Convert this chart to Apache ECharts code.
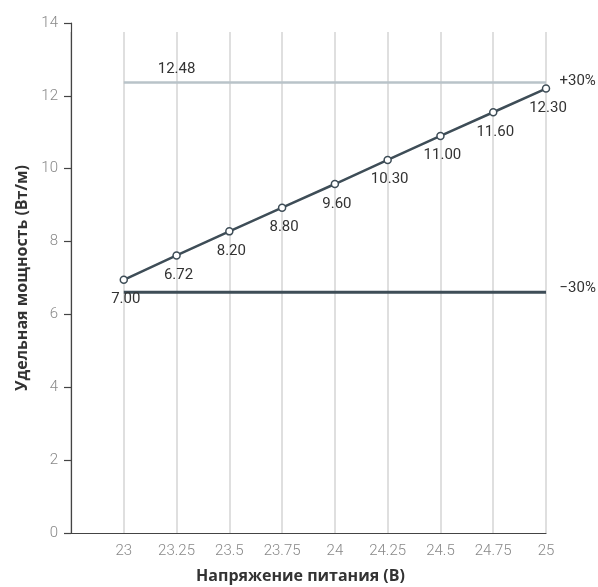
<!DOCTYPE html>
<html>
<head>
<meta charset="utf-8">
<script src="https://cdn.jsdelivr.net/npm/echarts@6/dist/echarts.min.js"></script>
<style>html,body{margin:0;padding:0;background:#fff}#c{width:598px;height:587px}</style>
</head>
<body>
<div id="c"></div>
<script>
const xValues = [23, 23.25, 23.5, 23.75, 24, 24.25, 24.5, 24.75, 25];
const powerValues = [6.95, 7.62, 8.28, 8.93, 9.58, 10.24, 10.9, 11.55, 12.2];
const pointLabels = ['7.00', '6.72', '8.20', '8.80', '9.60', '10.30', '11.00', '11.60', '12.30'];
const upperLimit = 12.37;
const upperLabel = '12.48';
const upperTag = '+30%';
const lowerLimit = 6.61;
const lowerTag = '\u221230%';
const yMin = 0, yMax = 14, yStep = 2;
const xMin = 22.75, xStep = 0.25;
const xName = 'Напряжение питания (В)';
const yName = 'Удельная мощность (Вт/м)';

const FONT = 'Roboto';
const NAME_FONT = 'Open Sans';
const chart = echarts.init(document.getElementById('c'), null, {renderer: 'canvas'});

const mainData = xValues.map((x, i) => ({
  value: [x, powerValues[i]],
  label: {formatter: pointLabels[i]}
}));
const upperData = xValues.map((x, i) => {
  const d = {value: [x, upperLimit]};
  if (i === 1) d.label = {show: true, position: 'top', distance: 5, formatter: upperLabel};
  if (i === xValues.length - 1) d.label = {show: true, position: 'right', distance: 13, offset: [0, -1], formatter: upperTag};
  return d;
});
const lowerData = xValues.map((x, i) => {
  const d = {value: [x, lowerLimit]};
  if (i === xValues.length - 1) d.label = {show: true, position: 'right', distance: 13, offset: [0, -4], formatter: lowerTag};
  return d;
});

const xMax = xValues[xValues.length - 1];
const hiddenItem = {color: 'rgba(0,0,0,0)', borderWidth: 0};

chart.setOption({
  animation: false,
  backgroundColor: '#fff',
  grid: [
    {left: 71, right: 52, top: 23, bottom: 54, containLabel: false, outerBoundsMode: 'none'},
    {left: 71, right: 52, top: 32, bottom: 54, containLabel: false, outerBoundsMode: 'none'}
  ],
  xAxis: [
    {
      type: 'value', gridIndex: 0, min: xMin, max: xMax, interval: xStep,
      name: xName, nameLocation: 'middle', nameGap: 35,
      nameTextStyle: {fontFamily: NAME_FONT, fontSize: 16, fontWeight: 'bold', color: '#333', padding: [0, 16, 0, 0]},
      axisLine: {show: true, lineStyle: {color: '#444', width: 1.2}},
      axisTick: {show: false},
      splitLine: {show: false},
      axisLabel: {
        margin: 11, fontFamily: FONT, fontSize: 15, color: '#888', fontWeight: 300,
        formatter: v => (v < xValues[0] ? '' : String(v))
      }
    },
    {
      type: 'value', gridIndex: 1, min: xMin, max: xMax, interval: xStep,
      axisLine: {show: false}, axisTick: {show: false}, axisLabel: {show: false},
      splitLine: {show: true, lineStyle: {color: '#d4d4d4', width: 1.5}}
    }
  ],
  yAxis: [
    {
      type: 'value', gridIndex: 0, min: yMin, max: yMax, interval: yStep,
      name: yName, nameLocation: 'middle', nameGap: 41,
      nameTextStyle: {fontFamily: NAME_FONT, fontSize: 16, fontWeight: 'bold', color: '#333', padding: [0, 0, 0, 0]},
      axisLine: {show: true, lineStyle: {color: '#444', width: 1.2}},
      axisTick: {show: true, length: 7, lineStyle: {color: '#444', width: 1.2}},
      splitLine: {show: false},
      axisLabel: {margin: 13, fontFamily: FONT, fontSize: 15, color: '#888', fontWeight: 300}
    },
    {
      type: 'value', gridIndex: 1, min: yMin, max: yMax, show: false,
      splitLine: {show: false}
    }
  ],
  series: [
    {
      type: 'line', xAxisIndex: 0, yAxisIndex: 0, data: upperData,
      symbol: 'circle', symbolSize: 1, showSymbol: true, itemStyle: hiddenItem,
      lineStyle: {color: '#b9c3c9', width: 2.5}, z: 2,
      label: {show: false, fontFamily: FONT, fontSize: 15, color: '#333'},
      emphasis: {disabled: true}
    },
    {
      type: 'line', xAxisIndex: 0, yAxisIndex: 0, data: lowerData,
      symbol: 'circle', symbolSize: 1, showSymbol: true, itemStyle: hiddenItem,
      lineStyle: {color: '#3e4d57', width: 3}, z: 2,
      label: {show: false, fontFamily: FONT, fontSize: 15, color: '#333'},
      emphasis: {disabled: true}
    },
    {
      type: 'line', xAxisIndex: 0, yAxisIndex: 0, data: mainData,
      symbol: 'circle', symbolSize: 7,
      itemStyle: {color: '#fff', borderColor: '#3e4d57', borderWidth: 1.5},
      lineStyle: {color: '#3e4d57', width: 2.5}, z: 5,
      label: {show: true, position: 'bottom', distance: 8, offset: [2, 0], fontFamily: FONT, fontSize: 15, color: '#333'},
      emphasis: {disabled: true}
    }
  ]
});
</script>
</body>
</html>
